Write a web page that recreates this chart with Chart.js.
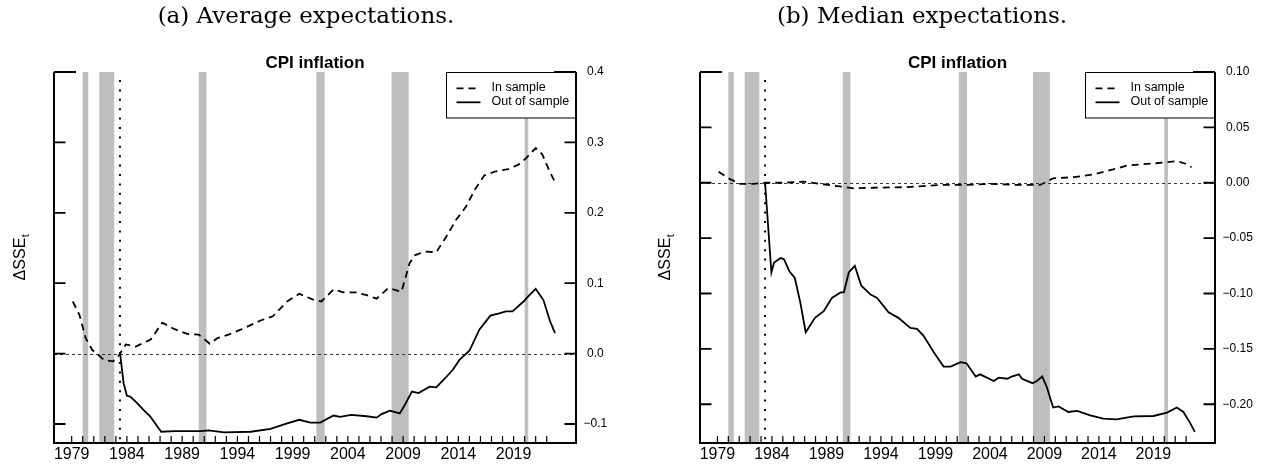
<!DOCTYPE html>
<html>
<head>
<meta charset="utf-8">
<script src="https://cdn.jsdelivr.net/npm/chart.js@4.4.0/dist/chart.umd.min.js"></script>
<style>
  html, body { margin: 0; padding: 0; background: #fff; }
  #wrap { position: relative; width: 1262px; height: 464px; overflow: hidden; }
  #wrap canvas { position: absolute; top: 0; }
  .cap { position: absolute; top: 2px; font-family: "DejaVu Serif", serif; font-size: 23px; line-height: 26px;
         color: #000; white-space: nowrap; transform: translateX(-50%); }
</style>
</head>
<body>
<div id="wrap">
  <canvas id="chartAvg" width="631" height="464" style="left:0"></canvas>
  <canvas id="chartMed" width="631" height="464" style="left:631px"></canvas>
  <div class="cap" style="left:306px">(a) Average expectations.</div>
  <div class="cap" style="left:922px">(b) Median expectations.</div>
</div>
<script>
// NBER recessions (decimal years) and start of the out-of-sample period
var recessions = [[1980.0, 1980.5], [1981.5, 1982.85], [1990.5, 1991.2], [2001.15, 2001.9], [2007.95, 2009.5], [2020.0, 2020.33]];
var sampleSplit = 1983.37;

var yearTicks = [1979, 1980, 1981, 1982, 1983, 1984, 1985, 1986, 1987, 1988, 1989, 1990, 1991, 1992, 1993,
                 1994, 1995, 1996, 1997, 1998, 1999, 2000, 2001, 2002, 2003, 2004, 2005, 2006, 2007, 2008,
                 2009, 2010, 2011, 2012, 2013, 2014, 2015, 2016, 2017, 2018, 2019, 2020, 2021, 2022];
var avgTicks = [-0.1, 0.0, 0.1, 0.2, 0.3, 0.4];
var medTicks = [-0.2, -0.15, -0.1, -0.05, 0.0, 0.05, 0.1];

// (a) average expectations
var avgInX = [1979.1, 1979.7, 1980.27, 1980.87, 1981.5, 1981.9, 1982.76, 1983.3, 1983.9, 1984.8, 1986.15, 1987.2,
              1988.26, 1989.46, 1990.5, 1991.5, 1992.2, 1993.2, 1994.3, 1996.1, 1997.2, 1998.5, 1999.6, 2000.8,
              2001.6, 2002.7, 2003.6, 2004.7, 2005.7, 2006.6, 2007.65, 2008.85, 2009.6, 2010.1, 2011.0, 2012.0,
              2012.9, 2013.8, 2014.7, 2015.5, 2016.35, 2017.4, 2018.5, 2019.4, 2020.1, 2021.0, 2021.6, 2022.2, 2022.7];
var avgInY = [0.074, 0.055, 0.022, 0.005, -0.003, -0.009, -0.011, -0.002, 0.013, 0.010, 0.020, 0.044,
              0.035, 0.028, 0.027, 0.014, 0.022, 0.027, 0.034, 0.047, 0.053, 0.074, 0.085, 0.077,
              0.074, 0.091, 0.087, 0.087, 0.083, 0.078, 0.093, 0.088, 0.129, 0.140, 0.145, 0.144,
              0.166, 0.190, 0.209, 0.233, 0.253, 0.259, 0.262, 0.268, 0.277, 0.292, 0.283, 0.261, 0.245];
var avgOutX = [1983.37, 1983.7, 1984.0, 1984.3, 1984.9, 1985.5, 1986.1, 1986.6, 1987.1, 1988.3, 1990.7, 1991.4,
               1992.8, 1995.2, 1997.0, 1998.5, 1999.6, 2000.6, 2001.5, 2002.7, 2003.3, 2004.3, 2005.7, 2006.6,
               2007.05, 2007.8, 2008.7, 2009.15, 2009.8, 2010.4, 2011.4, 2012.0, 2012.8, 2013.5, 2014.1, 2015.0,
               2015.9, 2016.9, 2017.7, 2018.3, 2018.9, 2019.9, 2020.3, 2021.0, 2021.7, 2022.3, 2022.75];
var avgOutY = [0.002, -0.042, -0.060, -0.061, -0.070, -0.080, -0.089, -0.100, -0.111, -0.110, -0.110, -0.109,
               -0.112, -0.111, -0.107, -0.099, -0.094, -0.098, -0.098, -0.088, -0.090, -0.087, -0.089, -0.091,
               -0.086, -0.081, -0.085, -0.073, -0.054, -0.056, -0.047, -0.048, -0.035, -0.023, -0.009, 0.004,
               0.034, 0.054, 0.057, 0.060, 0.060, 0.074, 0.081, 0.092, 0.076, 0.046, 0.029];

// (b) median expectations
var medInX = [1979.1, 1980.2, 1981.1, 1982.3, 1983.4, 1985.0, 1986.9, 1988.4, 1990.0, 1991.5, 1993.3, 1996.4,
              1999.4, 2001.9, 2004.0, 2006.5, 2008.6, 2009.8, 2011.7, 2013.5, 2015.3, 2016.6, 2019.0, 2021.1,
              2021.9, 2022.5];
var medInY = [0.010, 0.003, -0.001, -0.001, 0.000, 0.000, 0.001, -0.001, -0.003, -0.005, -0.0045, -0.004,
              -0.002, -0.002, -0.001, -0.002, -0.002, 0.004, 0.005, 0.0075, 0.012, 0.0156, 0.0174, 0.0195,
              0.0174, 0.014];
var medOutX = [1983.37, 1983.95, 1984.2, 1984.8, 1985.1, 1985.6, 1986.1, 1986.6, 1987.1, 1987.95, 1988.75, 1989.5,
               1990.3, 1990.6, 1991.05, 1991.6, 1992.2, 1993.05, 1993.65, 1994.7, 1995.6, 1996.7, 1997.3, 1997.9,
               1998.85, 1999.75, 2000.4, 2001.3, 2001.85, 2002.7, 2003.1, 2004.35, 2004.8, 2005.6, 2006.0, 2006.65,
               2006.95, 2007.9, 2008.3, 2008.8, 2009.2, 2009.8, 2010.3, 2011.2, 2012.0, 2013.2, 2014.4, 2015.6,
               2017.2, 2019.0, 2020.25, 2021.15, 2021.75, 2022.35, 2022.8];
var medOutY = [0.0, -0.081, -0.072, -0.068, -0.069, -0.080, -0.086, -0.108, -0.135, -0.122, -0.116, -0.104,
               -0.099, -0.099, -0.081, -0.075, -0.093, -0.101, -0.104, -0.117, -0.122, -0.131, -0.132, -0.138,
               -0.153, -0.166, -0.166, -0.162, -0.163, -0.175, -0.173, -0.179, -0.176, -0.177, -0.175, -0.173,
               -0.177, -0.181, -0.179, -0.175, -0.184, -0.203, -0.202, -0.207, -0.206, -0.210, -0.213, -0.2136,
               -0.211, -0.2106, -0.2076, -0.203, -0.207, -0.2166, -0.225];

function toPoints(xs, ys) {
    return xs.map(function (x, i) { return { x: x, y: ys[i] }; });
}

function fmtTick(v, dec) {
    var s = Math.abs(v).toFixed(dec);
    return (v < -1e-9 ? '\u2212' : '') + s;
}

var decorPlugin = {
    id: 'decor',
    beforeDatasetsDraw: function (chart) {
        var ctx = chart.ctx, a = chart.chartArea, xs = chart.scales.x, ys = chart.scales.y;
        ctx.save();
        ctx.fillStyle = '#bebebe';
        recessions.forEach(function (r) {
            var x0 = xs.getPixelForValue(r[0]), x1 = xs.getPixelForValue(r[1]);
            ctx.fillRect(x0, a.top, x1 - x0, a.bottom - a.top);
        });
        var y0 = Math.round(ys.getPixelForValue(0)) + 0.5;
        ctx.strokeStyle = '#333';
        ctx.lineWidth = 1;
        ctx.setLineDash([3, 3]);
        ctx.beginPath();
        ctx.moveTo(a.left, y0);
        ctx.lineTo(a.right, y0);
        ctx.stroke();
        var xSplit = xs.getPixelForValue(sampleSplit);
        ctx.strokeStyle = '#000';
        ctx.lineWidth = 2;
        ctx.setLineDash([2, 7.4]);
        ctx.beginPath();
        ctx.moveTo(xSplit, a.top + 8);
        ctx.lineTo(xSplit, a.bottom);
        ctx.stroke();
        ctx.restore();
    },
    afterDatasetsDraw: function (chart) {
        // legend box in the top right corner
        var ctx = chart.ctx, a = chart.chartArea;
        var left = a.right - 130.5, top = a.top;
        ctx.save();
        ctx.fillStyle = '#fff';
        ctx.fillRect(left, top, 130.5, 46);
        ctx.strokeStyle = '#000';
        ctx.lineWidth = 1;
        ctx.strokeRect(Math.round(left) + 0.5, top + 0.5, 130, 45.5);
        ctx.lineWidth = 1.8;
        ctx.setLineDash([7, 5]);
        ctx.beginPath();
        ctx.moveTo(left + 11, top + 16.3);
        ctx.lineTo(left + 35, top + 16.3);
        ctx.stroke();
        ctx.setLineDash([]);
        ctx.beginPath();
        ctx.moveTo(left + 11, top + 30.3);
        ctx.lineTo(left + 35, top + 30.3);
        ctx.stroke();
        ctx.fillStyle = '#000';
        ctx.font = '12.5px "Liberation Sans"';
        ctx.textAlign = 'left';
        ctx.textBaseline = 'alphabetic';
        ctx.fillText('In sample', left + 46, top + 19);
        ctx.fillText('Out of sample', left + 46, top + 33.3);
        ctx.restore();
    },
    afterDraw: function (chart, args, opts) {
        var ctx = chart.ctx, a = chart.chartArea, xs = chart.scales.x, ys = chart.scales.y;
        ctx.save();
        ctx.strokeStyle = '#000';
        ctx.setLineDash([]);
        ctx.lineWidth = 2;
        ctx.beginPath();
        ctx.moveTo(a.left, a.top);
        ctx.lineTo(a.left, a.bottom);
        ctx.lineTo(a.right, a.bottom);
        ctx.lineTo(a.right, a.top);
        ctx.stroke();

        ctx.lineWidth = 1.8;
        var topTick = opts.ticks[opts.ticks.length - 1];
        opts.ticks.forEach(function (v) {
            var y = ys.getPixelForValue(v);
            var len = v === topTick ? 22 : 11.5;
            ctx.beginPath();
            ctx.moveTo(a.left, y);
            ctx.lineTo(a.left + len, y);
            ctx.moveTo(a.right - len, y);
            ctx.lineTo(a.right, y);
            ctx.stroke();
        });

        ctx.lineWidth = 1.2;
        yearTicks.forEach(function (yr) {
            var x = xs.getPixelForValue(yr);
            ctx.beginPath();
            ctx.moveTo(x, a.bottom);
            ctx.lineTo(x, a.bottom - 7);
            ctx.stroke();
        });

        ctx.fillStyle = '#000';
        ctx.font = 'bold 17px "Liberation Sans"';
        ctx.textAlign = 'center';
        ctx.textBaseline = 'alphabetic';
        ctx.fillText('CPI inflation', (a.left + a.right) / 2, 68.3);

        // rotated y label with subscript
        ctx.translate(opts.labelX, (a.top + a.bottom) / 2);
        ctx.rotate(-Math.PI / 2);
        ctx.font = '16px "Liberation Sans"';
        var w1 = ctx.measureText('\u0394SSE').width;
        ctx.font = '11px "Liberation Sans"';
        var w2 = ctx.measureText('t').width;
        ctx.textAlign = 'left';
        ctx.font = '16px "Liberation Sans"';
        ctx.fillText('\u0394SSE', -(w1 + w2) / 2, 0);
        ctx.font = '11px "Liberation Sans"';
        ctx.fillText('t', -(w1 + w2) / 2 + w1 + 0.5, 4);
        ctx.restore();
    }
};

function makeChart(id, cfg) {
    return new Chart(document.getElementById(id), {
        type: 'line',
        data: {
            datasets: [{
                label: 'In sample',
                data: toPoints(cfg.inX, cfg.inY),
                borderColor: '#000',
                borderWidth: 1.8,
                borderDash: [7, 5],
                pointRadius: 0,
                tension: 0,
                fill: false
            }, {
                label: 'Out of sample',
                data: toPoints(cfg.outX, cfg.outY),
                borderColor: '#000',
                borderWidth: 1.8,
                pointRadius: 0,
                tension: 0,
                fill: false
            }]
        },
        options: {
            responsive: false,
            animation: false,
            devicePixelRatio: 1,
            layout: { padding: { left: cfg.padLeft, top: 72, right: 0, bottom: 0 } },
            plugins: {
                legend: { display: false },
                tooltip: { enabled: false },
                decor: { ticks: cfg.ticks, labelX: cfg.labelX }
            },
            scales: {
                x: {
                    type: 'linear',
                    min: 1977.4,
                    max: 2024.65,
                    grid: { display: false, drawTicks: false },
                    border: { display: false },
                    afterBuildTicks: function (s) {
                        s.ticks = yearTicks.map(function (v) { return { value: v }; });
                    },
                    afterFit: function (s) { s.height = 21; },
                    ticks: {
                        autoSkip: false,
                        maxRotation: 0,
                        padding: 1.5,
                        color: '#000',
                        font: { family: 'Liberation Sans', size: 16 },
                        callback: function (v) { return (v - 1979) % 5 === 0 ? String(v) : ''; }
                    }
                },
                y: {
                    type: 'linear',
                    position: 'right',
                    min: cfg.yMin,
                    max: cfg.yMax,
                    grid: { display: false, drawTicks: false },
                    border: { display: false },
                    afterBuildTicks: function (s) {
                        s.ticks = cfg.ticks.map(function (v) { return { value: v }; });
                    },
                    afterFit: function (s) { s.width = cfg.axisWidth; },
                    ticks: {
                        crossAlign: 'center',
                        padding: 7.5,
                        color: '#000',
                        font: { family: 'Liberation Sans', size: 12 },
                        callback: function (v) { return fmtTick(v, cfg.dec); }
                    }
                }
            }
        },
        plugins: [decorPlugin]
    });
}

makeChart('chartAvg', {
    inX: avgInX, inY: avgInY, outX: avgOutX, outY: avgOutY,
    yMin: -0.127, yMax: 0.4, ticks: avgTicks, dec: 1,
    padLeft: 54, axisWidth: 55, labelX: 25
});
makeChart('chartMed', {
    inX: medInX, inY: medInY, outX: medOutX, outY: medOutY,
    yMin: -0.235, yMax: 0.1, ticks: medTicks, dec: 2,
    padLeft: 69, axisWidth: 47, labelX: 38.5
});
</script>
</body>
</html>
